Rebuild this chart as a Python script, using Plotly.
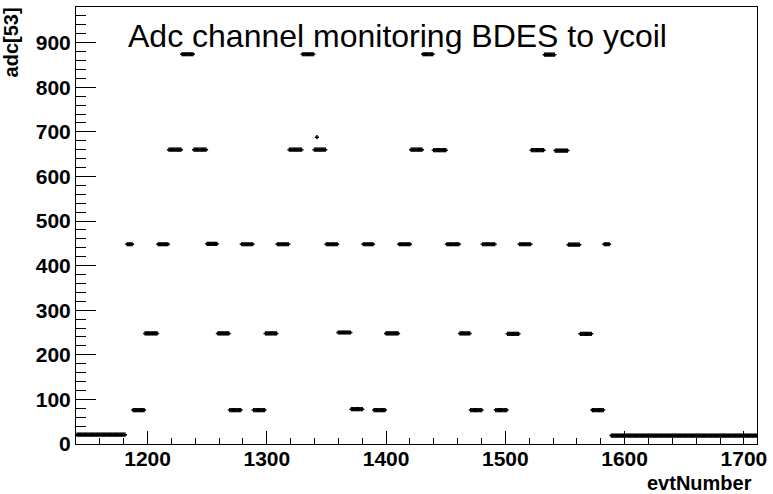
import plotly.graph_objects as go

# Runs of consecutive events at a constant ADC value (first evt, last evt, adc)
run_start = [1141, 1183, 1188, 1198, 1209, 1218, 1229, 1239, 1250, 1259, 1269, 1279,
             1289, 1299, 1309, 1319, 1330, 1340, 1350, 1360, 1371, 1381, 1390, 1400,
             1411, 1421, 1431, 1440, 1451, 1462, 1471, 1481, 1492, 1502, 1512, 1522,
             1533, 1542, 1553, 1563, 1573, 1583, 1589]
run_end = [1181, 1187, 1197, 1208, 1217, 1228, 1238, 1249, 1258, 1268, 1278, 1288,
           1298, 1308, 1318, 1329, 1339, 1349, 1359, 1370, 1380, 1389, 1399, 1410,
           1420, 1430, 1439, 1450, 1461, 1470, 1480, 1491, 1501, 1511, 1521, 1532,
           1541, 1552, 1562, 1572, 1582, 1587, 1711]
run_adc = [21, 448, 76, 248, 448, 660, 874, 660, 449, 248, 76, 448,
           76, 248, 448, 660, 874, 660, 448, 250, 78, 448, 76, 248,
           448, 660, 874, 659, 448, 248, 76, 448, 76, 247, 448, 659,
           873, 658, 447, 247, 76, 448, 19]
# single outlier
outlier_evt = [1342]
outlier_adc = [688]

evt = []
adc = []
for s, e, v in zip(run_start, run_end, run_adc):
    for n in range(s, e + 1):
        evt.append(n)
        adc.append(v)
evt += outlier_evt
adc += outlier_adc

FONT = "Liberation Sans, Arial, Helvetica, sans-serif"

fig = go.Figure()
fig.add_trace(go.Scatter(
    x=evt, y=adc, mode="markers",
    marker=dict(symbol="cross-thin", size=3, color="black",
                line=dict(color="black", width=1.5)),
    showlegend=False, hoverinfo="x+y",
))

fig.update_layout(
    width=773, height=494,
    margin=dict(l=76, r=11, t=6, b=50),
    paper_bgcolor="white", plot_bgcolor="white",
    font=dict(family=FONT, color="black"),
)
fig.update_xaxes(
    range=[1140, 1711], tick0=0, dtick=100,
    showgrid=False, zeroline=False,
    showline=True, linecolor="black", linewidth=1, mirror=True,
    ticks="inside", ticklen=13, tickcolor="black", tickwidth=1,
    minor=dict(dtick=20, ticks="inside", ticklen=6, tickcolor="black", tickwidth=1),
    tickfont=dict(family=FONT, size=21, weight="bold", color="black"),
    ticklabelstandoff=-4,
)
fig.update_yaxes(
    range=[0, 980], tick0=0, dtick=100,
    showgrid=False, zeroline=False,
    showline=True, linecolor="black", linewidth=1, mirror=True,
    ticks="inside", ticklen=20, tickcolor="black", tickwidth=1,
    minor=dict(dtick=20, ticks="inside", ticklen=10, tickcolor="black", tickwidth=1),
    tickfont=dict(family=FONT, size=21, weight="bold", color="black"),
)

fig.add_annotation(
    text="Adc channel monitoring BDES to ycoil",
    xref="paper", yref="paper", x=(126 - 76) / 686, y=(444 - 35) / 438,
    xanchor="left", yanchor="middle", showarrow=False,
    font=dict(family=FONT, size=32, color="black"),
)
fig.add_annotation(
    text="<b>evtNumber</b>",
    xref="paper", yref="paper", x=(759 - 76) / 686, y=(444 - 483) / 438,
    xanchor="right", yanchor="middle", showarrow=False,
    font=dict(family=FONT, size=20, color="black"),
)
fig.add_annotation(
    text="<b>adc[53]</b>", textangle=-90,
    xref="paper", yref="paper", x=(24 - 76) / 686, y=(444 - 4) / 438,
    xanchor="right", yanchor="top", showarrow=False,
    font=dict(family=FONT, size=20, color="black"),
)

fig.write_html("out.html")
